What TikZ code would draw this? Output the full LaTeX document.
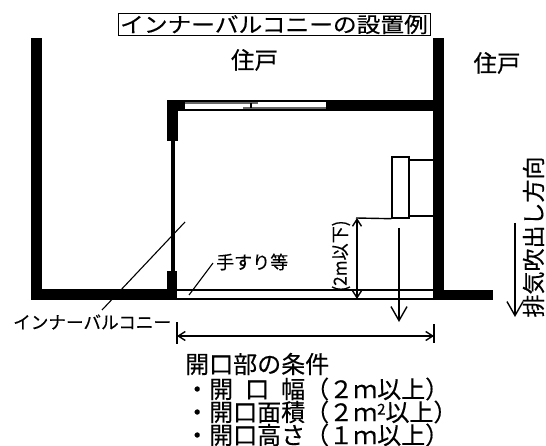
\documentclass[tikz,border=0pt]{standalone}
\usepackage{fontspec}
\setmainfont[FakeBold=0.35]{Noto Sans CJK JP}
\usetikzlibrary{arrows.meta}
\tikzset{
  wall/.style={fill=black,draw=none},
  thin line/.style={draw=black,line width=1.4pt},
  leader/.style={draw=black,line width=1.1pt},
  dim/.style={draw=black,line width=1.4pt,{Straight Barb[length=7pt,width=9pt,line width=1.4pt]}-{Straight Barb[length=7pt,width=9pt,line width=1.4pt]}},
  bigarrow/.style={draw=black,line width=1.4pt,-{Straight Barb[length=14pt,width=16pt,line width=1.4pt]}},
  lab/.style={inner sep=0pt,anchor=west,font=\fontsize{18}{18}\selectfont},
  big/.style={inner sep=0pt,anchor=west,font=\fontsize{23.5}{23.5}\selectfont},
  cond/.style={inner sep=0pt,anchor=west,font=\fontsize{24}{24}\selectfont},
}
\begin{document}
\begin{tikzpicture}[x=1pt,y=-1pt]
\useasboundingbox (0,0) rectangle (546,446);
\fill[white] (0,0) rectangle (546,446);
% title
\node[draw=black,line width=1pt,inner sep=1.5pt,minimum width=312pt,minimum height=21pt] (title) at (274,24.5)
  {\fontsize{21}{21}\selectfont\scalebox{1.13}[1]{インナーバルコニーの設置例}};
\node[big,anchor=center] (unitA) at (254.5,60) {住戸};
\node[big,anchor=center] (unitB) at (497,63) {住戸};
% leader lines under the walls
\coordinate (lA) at (185,222); \coordinate (lB) at (102,310);
\draw[leader] (lA) -- (lB);
% walls
\fill[wall] (31,38) rectangle (42,300);
\fill[wall] (31,289) rectangle (177,300);
\fill[wall] (167,271) rectangle (177,300);
\fill[wall] (433,38) rectangle (444,300);
\fill[wall] (433,290) rectangle (493,300);
\fill[wall] (167,100) rectangle (178,141);
\fill[wall] (167,100) rectangle (185,111);
\fill[wall] (326,100) rectangle (433,111);
% sash
\fill[wall] (185,100) rectangle (326,102);
\fill[wall] (178,109.5) rectangle (326,111);
\fill[black!60] (185,102) rectangle (258,104);
\fill[black!60] (243,107.5) rectangle (326,109.5);
\fill[wall] (250,103) rectangle (252,108);
\fill[wall] (171,141) rectangle (174.5,271);
% railing
\draw[thin line] (177,290) -- (433,290);
\draw[thin line] (177,299) -- (433,299);
% fixture
\node[draw=black,line width=1.4pt,fill=white,minimum width=17pt,minimum height=61pt,inner sep=0pt] (hood) at (400.5,187.5) {};
\coordinate (h1) at (433,160); \coordinate (h2) at (433,216); \coordinate (h3) at (356,218);
\draw[thin line] (hood.east|-h1) -- (h1);
\draw[thin line] (hood.east|-h2) -- (h2);
\draw[thin line] (hood.south west) -- (h3);
% height dimension
\coordinate (d1) at (357,218); \coordinate (d2) at (357,299);
\draw[dim] (d1) -- (d2);
\node[rotate=90,inner sep=0pt,font=\fontsize{18}{18}\selectfont] (htext) at (341,256) {\scalebox{0.95}[1]{(2m以下)}};
% exhaust arrow from hood
\coordinate (e1) at (399,228); \coordinate (e2) at (399,322);
\draw[bigarrow] (e1) -- (e2);
% width dimension
\coordinate (w1) at (177,322); \coordinate (w2) at (177,344);
\coordinate (w3) at (434,324); \coordinate (w4) at (434,343);
\draw[line width=1.4pt] (w1) -- (w2);
\draw[line width=1.4pt] (w3) -- (w4);
\coordinate (wa) at (177,336); \coordinate (wb) at (434,336);
\draw[dim] (wa) -- (wb);
% direction arrow
\coordinate (x1) at (515,223); \coordinate (x2) at (515,317);
\draw[bigarrow] (x1) -- (x2);
\node[rotate=90,inner sep=0pt,font=\fontsize{23}{23}\selectfont] (dirtext) at (533.5,237) {排気吹出し方向};
% railing label
\coordinate (r1) at (189,295); \coordinate (r2) at (213,263);
\draw[leader] (r1) -- (r2);
\node[lab] (rail) at (216,262) {手すり等};
\node[lab,font=\fontsize{17.6}{17.6}\selectfont] (ib) at (13,322) {インナーバルコニー};
% conditions
\node[cond] (c0) at (185,364) {開口部の条件};
\node[cond] (c1) at (185,389) {・開\hspace{0.5em}口\hspace{0.5em}幅（２ｍ以上）};
\node[cond] (c2) at (185,412) {・開口面積（２ｍ\raisebox{0.5ex}{\fontsize{15}{15}\selectfont 2}以上）};
\node[cond] (c3) at (185,435) {・開口高さ（１ｍ以上）};
\end{tikzpicture}
\end{document}
